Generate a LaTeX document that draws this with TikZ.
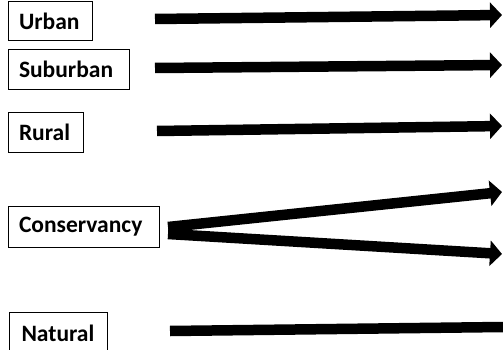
\documentclass[tikz,border=0pt]{standalone}
\usepackage{fontspec}
\setmainfont{Carlito}
\usetikzlibrary{arrows.meta}
\begin{document}
\begin{tikzpicture}[x=1pt,y=-1pt,
  lbl/.style 2 args={draw=black,line width=1pt,font=\bfseries\fontsize{23.5}{25}\selectfont,
    anchor=north west,inner xsep=10.5pt,inner ysep=0pt,minimum height=#1,
    text width=#2-21pt,align=left},
  fat/.style={line width=10.5pt,-{Triangle[length=12pt,width=25pt]}},
  bar/.style={line width=10.5pt}]
\useasboundingbox[fill=white] (0,0) rectangle (503,350);
\node[lbl={39pt}{84pt}] (urban) at (8,1) {Urban};
\node[lbl={40pt}{121pt}] (suburban) at (8,49) {Suburban};
\node[lbl={40pt}{75pt}] (rural) at (8,112) {Rural};
\node[lbl={41pt}{151pt}] (conservancy) at (8,206) {Conservancy};
\node[lbl={42pt}{98pt}] (natural) at (9,312) {\hspace*{1.5pt}Natural};
\coordinate (u1) at (155,19);
\coordinate (u2) at (502,15);
\coordinate (s1) at (155,68);
\coordinate (s2) at (502,65);
\coordinate (r1) at (157,131);
\coordinate (r2) at (502,126);
\coordinate (c1) at (168,227);
\coordinate (c2) at (168,234);
\coordinate (ct) at (502,192);
\coordinate (cb) at (502,254);
\coordinate (n1) at (170,331);
\coordinate (n2) at (503,327);
\draw[fat] (u1) -- (u2);
\draw[fat] (s1) -- (s2);
\draw[fat] (r1) -- (r2);
\draw[fat] (c1) -- (ct);
\draw[fat] (c2) -- (cb);
\draw[bar] (n1) -- (n2);
\end{tikzpicture}
\end{document}
